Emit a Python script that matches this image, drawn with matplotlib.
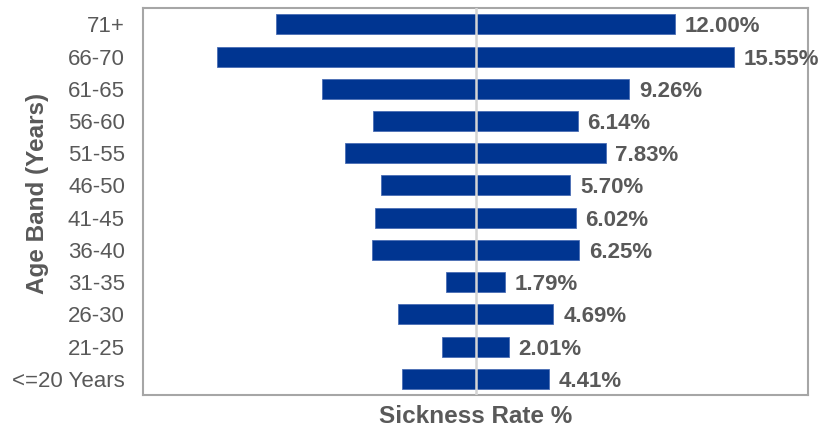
import matplotlib.pyplot as plt

# Altersgruppen von oben nach unten
age_bands = ['71+', '66-70', '61-65', '56-60', '51-55', '46-50', '41-45',
             '36-40', '31-35', '26-30', '21-25', '<=20 Years']
sickness_rate = [12.00, 15.55, 9.26, 6.14, 7.83, 5.70, 6.02,
                 6.25, 1.79, 4.69, 2.01, 4.41]

bar_color = '#003591'
text_color = '#595959'

plt.rcParams['font.family'] = ['Liberation Sans', 'DejaVu Sans']

fig = plt.figure(figsize=(8.22, 4.30), dpi=100)
ax = fig.add_axes([0.174, 0.0814, 0.809, 0.8996])

pos = list(range(len(age_bands)))[::-1]

# gespiegelte Balken links und rechts
ax.barh(pos, [-v for v in sickness_rate], height=0.62, color=bar_color,
        edgecolor='#4a6db5', linewidth=0.6, zorder=2)
ax.barh(pos, sickness_rate, height=0.62, color=bar_color,
        edgecolor='#4a6db5', linewidth=0.6, zorder=2)
ax.axvline(0, color='#d4d4d4', linewidth=1.8, zorder=3)

for p, v in zip(pos, sickness_rate):
    ax.annotate(f'{v:.2f}%', xy=(v, p), xytext=(7, 0), textcoords='offset points',
                ha='left', va='center_baseline', fontsize=16, fontweight='bold',
                color=text_color, annotation_clip=False)

ax.set_xlim(-20, 20)
ax.set_ylim(-0.5, len(age_bands) - 0.5)
ax.set_yticks(pos)
ax.set_yticklabels(age_bands)
ax.set_xticks([])
ax.tick_params(axis='y', length=0, pad=13, labelsize=16, labelcolor=text_color)

for s in ax.spines.values():
    s.set_color('#a6a6a6')
    s.set_linewidth(1.5)

ax.set_xlabel('Sickness Rate %', fontsize=17.5, fontweight='bold',
              color=text_color, labelpad=7)
ax.set_ylabel('Age Band (Years)', fontsize=17.5, fontweight='bold',
              color=text_color)
ax.yaxis.set_label_coords(-0.142, 0.52)

fig.savefig('out.png', dpi=100)
